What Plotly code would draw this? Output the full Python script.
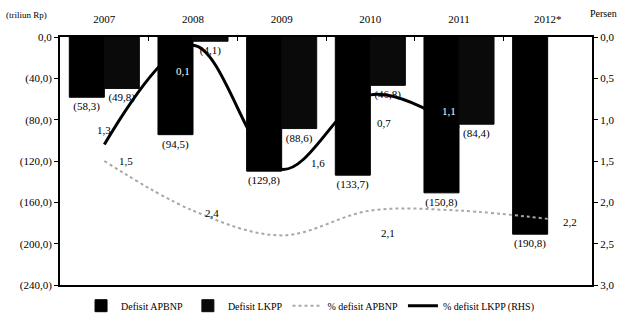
import plotly.graph_objects as go

years = ["2007", "2008", "2009", "2010", "2011", "2012*"]
defisit_apbnp = [-58.3, -94.5, -129.8, -133.7, -150.8, -190.8]
defisit_lkpp = [-49.8, -4.1, -88.6, -46.8, -84.4, None]
pct_apbnp = [1.5, 2.1, 2.4, 2.1, 2.1, 2.2]
pct_lkpp = [1.3, 0.1, 1.6, 0.7, 1.1, None]

left_ticks = [0, -40, -80, -120, -160, -200, -240]
left_ticktext = ["0,0", "(40,0)", "(80,0)", "(120,0)", "(160,0)", "(200,0)", "(240,0)"]
right_ticks = [0, 0.5, 1.0, 1.5, 2.0, 2.5, 3.0]
right_ticktext = ["0,0", "0,5", "1,0", "1,5", "2,0", "2,5", "3,0"]

FONT = "Liberation Serif"


def paren(v):
    if v is None:
        return ""
    return "(" + f"{abs(v):.1f}".replace(".", ",") + ")"


def comma(v):
    return f"{v:.1f}".replace(".", ",")


fig = go.Figure()

# black LKPP percent line
fig.add_trace(go.Scatter(
    x=years, y=pct_lkpp, name="% defisit LKPP (RHS)", mode="lines",
    line=dict(color="black", width=3, shape="spline", smoothing=1.0),
    xaxis="x", yaxis="y", connectgaps=False, legendrank=4,
))

fig.add_trace(go.Bar(
    x=years, y=defisit_apbnp, name="Defisit APBNP",
    marker=dict(color="black", line=dict(width=1, color="black")),
    text=[paren(v) for v in defisit_apbnp], textposition="outside",
    textfont=dict(family=FONT, size=11, color="black"),
    constraintext="none", cliponaxis=False,
    xaxis="x", yaxis="y2", legendrank=1,
))
fig.add_trace(go.Bar(
    x=years, y=defisit_lkpp, name="Defisit LKPP",
    marker=dict(color="#0a0a0a", line=dict(width=1, color="#0a0a0a")),
    text=[paren(v) for v in defisit_lkpp], textposition="outside",
    textfont=dict(family=FONT, size=11, color="black"),
    constraintext="none", cliponaxis=False,
    xaxis="x", yaxis="y2", legendrank=2,
))

# grey APBNP percent line (drawn above the bars)
fig.add_trace(go.Scatter(
    x=years, y=pct_apbnp, name="% defisit APBNP", mode="lines",
    line=dict(color="#a8a8a8", width=2, dash="dot", shape="spline", smoothing=1.0),
    xaxis="x", yaxis="y3", legendrank=3,
))

annotations = []
# LKPP percent labels (index, xshift, yshift, color)
lkpp_lab = [(0, 0, 14, "black"), (1, -10, -26, "white"), (2, 36, 6, "black"),
            (3, 14, -28, "black"), (4, -10, 17, "white")]
for i, dx, dy, col in lkpp_lab:
    annotations.append(dict(x=i, y=pct_lkpp[i], xref="x", yref="y",
                            text=comma(pct_lkpp[i]), showarrow=False,
                            xshift=dx, yshift=dy,
                            font=dict(family=FONT, size=11, color=col)))
apbnp_lab = [(0, 22, 0), (2, -70, 22), (3, 18, -22), (5, 22, -3)]
for i, dx, dy in apbnp_lab:
    annotations.append(dict(x=i, y=pct_apbnp[i], xref="x", yref="y",
                            text=comma(pct_apbnp[i]), showarrow=False,
                            xshift=dx, yshift=dy,
                            font=dict(family=FONT, size=11, color="black")))

annotations.append(dict(x=-0.105, y=1.09, xref="paper", yref="paper",
                        xanchor="left", yanchor="middle", text="(triliun Rp)",
                        showarrow=False, font=dict(family=FONT, size=9, color="black")))
annotations.append(dict(x=0.993, y=1.095, xref="paper", yref="paper",
                        xanchor="left", yanchor="middle", text="Persen",
                        showarrow=False, font=dict(family=FONT, size=10, color="black")))

fig.update_layout(
    width=623, height=320,
    margin=dict(l=60, r=31, t=37, b=35, autoexpand=False),
    paper_bgcolor="white", plot_bgcolor="white",
    font=dict(family=FONT, size=11, color="black"),
    barmode="group", bargap=0.21, bargroupgap=0,
    showlegend=True,
    legend=dict(orientation="h", x=0.47, xanchor="center", y=-0.025, yanchor="top",
                font=dict(family=FONT, size=10, color="black"),
                traceorder="normal", itemwidth=30, tracegroupgap=0),
    xaxis=dict(type="category", categoryorder="array", categoryarray=years,
               range=[-0.5, len(years) - 0.5],
               side="top", anchor="y", showgrid=False,
               showline=True, linecolor="black", linewidth=1.5, mirror=True,
               ticks="inside", ticklen=4, tickson="boundaries", tickcolor="black",
               ticklabelstandoff=8,
               tickfont=dict(family=FONT, size=11, color="black")),
    yaxis=dict(side="right", range=[3, 0], tickvals=right_ticks, ticktext=right_ticktext,
               showgrid=False, zeroline=False, showline=True, linecolor="black",
               linewidth=2, ticks="outside", ticklen=4, tickcolor="black",
               tickfont=dict(family=FONT, size=11, color="black")),
    yaxis2=dict(side="left", overlaying="y", range=[-240, 0], tickvals=left_ticks,
                ticktext=left_ticktext, showgrid=False, zeroline=False, showline=True,
                linecolor="black", linewidth=2, ticks="outside", ticklen=4,
                tickcolor="black", tickfont=dict(family=FONT, size=11, color="black")),
    yaxis3=dict(overlaying="y", range=[3, 0], visible=False),
    annotations=annotations,
)

fig.write_html("out.html")
